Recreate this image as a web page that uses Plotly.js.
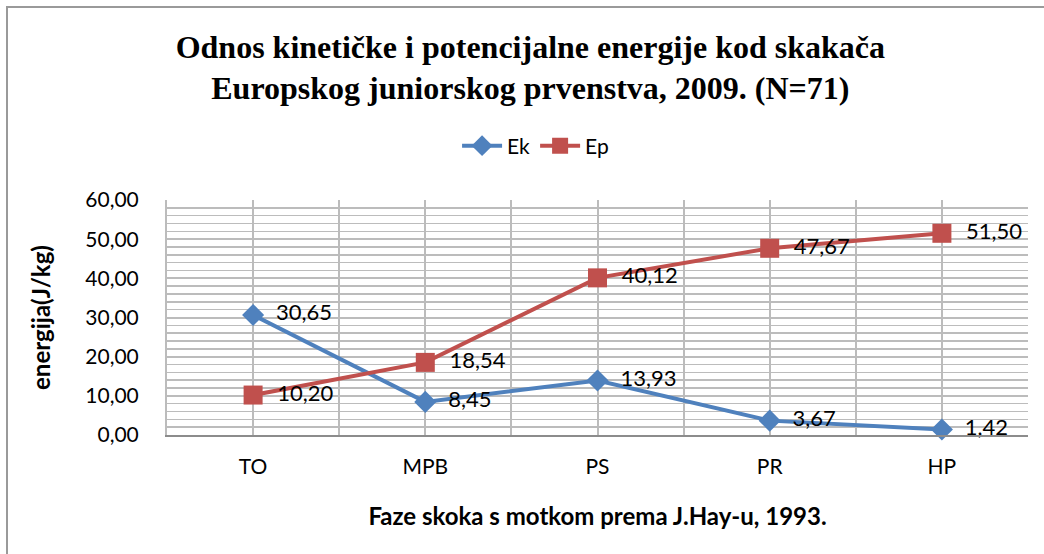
<!DOCTYPE html>
<html>
<head>
<meta charset="utf-8">
<script src="https://cdn.plot.ly/plotly-3.0.1.min.js"></script>
<style>
html,body{margin:0;padding:0;background:#fff;}
#wrap{position:relative;width:1044px;height:554px;}
#chart{width:1044px;height:554px;}
#frame{position:absolute;left:6px;top:6px;width:1100px;height:600px;border-left:2px solid #9a9a9a;border-top:2px solid #9a9a9a;pointer-events:none;}
</style>
</head>
<body>
<div id="wrap"><div id="chart"></div><div id="frame"></div></div>
<script>
const categories = ["TO", "MPB", "PS", "PR", "HP"];
const ekValues = [30.65, 8.45, 13.93, 3.67, 1.42];
const epValues = [10.20, 18.54, 40.12, 47.67, 51.50];
const seriesNames = ["Ek", "Ep"];
const titleText = "Odnos kinetičke i potencijalne energije kod skakača<br>Europskog juniorskog prvenstva, 2009. (N=71)";
const xTitle = "Faze skoka s motkom prema J.Hay-u, 1993.";
const yTitle = "energija(J/kg)";

const idx = categories.map((c, i) => i);
const labelFont = {family: "Lato, 'Open Sans', sans-serif", size: 22, color: "#000"};

const traces = [
  {
    x: idx, y: ekValues, name: seriesNames[0], type: "scatter", mode: "lines+markers+text",
    line: {color: "#4F81BD", width: 4},
    marker: {symbol: "diamond", size: 17, color: "#4F81BD"},
    texttemplate: "  %{y:.2f}", textposition: "middle right", textfont: labelFont,
    cliponaxis: false
  },
  {
    x: idx, y: epValues, name: seriesNames[1], type: "scatter", mode: "lines+markers+text",
    line: {color: "#C0504D", width: 4},
    marker: {symbol: "square", size: 19, color: "#C0504D"},
    texttemplate: "  %{y:.2f}", textposition: "middle right", textfont: labelFont,
    cliponaxis: false
  }
];

const boundaries = [];
for (let i = 0; i <= categories.length; i++) boundaries.push(i - 0.5);

const layout = {
  width: 1044, height: 554,
  margin: {l: 167, r: 16, t: 200, b: 119},
  paper_bgcolor: "#fff", plot_bgcolor: "#fff",
  separators: ",.",
  showlegend: true,
  title: {
    text: titleText,
    font: {family: "'Liberation Serif', 'Times New Roman', serif", size: 32, color: "#000", weight: "bold"},
    x: 0.508, xanchor: "center", y: 0.896, yref: "container", yanchor: "middle"
  },
  legend: {
    orientation: "h", x: 0.513, xref: "container", xanchor: "center", y: 0.7365, yref: "container", yanchor: "middle",
    font: {family: "Lato, 'Open Sans', sans-serif", size: 21, color: "#000"},
    itemwidth: 40, tracegroupgap: 0
  },
  xaxis: {
    range: [-0.5, categories.length - 0.5],
    tickvals: idx, ticktext: categories,
    showgrid: true, gridcolor: "#bcbcbc", gridwidth: 2,
    minor: {tickvals: boundaries, showgrid: true, gridcolor: "#bcbcbc", gridwidth: 2},
    showline: true, linecolor: "#8c8c8c", linewidth: 2, mirror: false,
    zeroline: false, ticks: "",
    tickfont: {family: "Lato, 'Open Sans', sans-serif", size: 21, color: "#000"},
    ticklabelstandoff: 12,
    title: {text: xTitle, font: {family: "Lato, 'Open Sans', sans-serif", size: 24, color: "#000", weight: "bold"}, standoff: 31}
  },
  yaxis: {
    range: [0, 60], dtick: 10, tickformat: ".2f",
    showgrid: true, gridcolor: "#bcbcbc", gridwidth: 2,
    minor: {dtick: 2, showgrid: true, gridcolor: "#bcbcbc", gridwidth: 1.5},
    showline: true, linecolor: "#bcbcbc", linewidth: 2,
    zeroline: false, ticks: "",
    tickfont: {family: "Lato, 'Open Sans', sans-serif", size: 21, color: "#000"},
    ticklabelstandoff: 22,
    title: {text: yTitle, font: {family: "Lato, 'Open Sans', sans-serif", size: 24, color: "#000", weight: "bold"}, standoff: 28}
  }
};

Plotly.newPlot("chart", traces, layout, {displayModeBar: false, staticPlot: true});
</script>
</body>
</html>
